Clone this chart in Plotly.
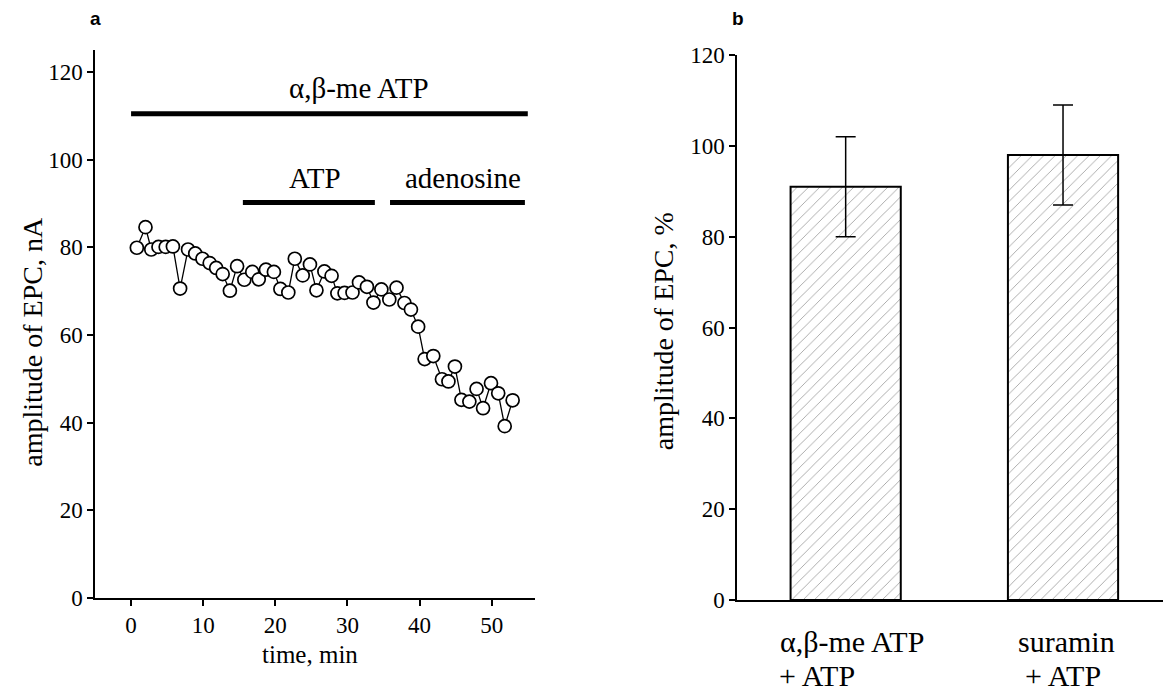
import plotly.graph_objects as go

# ---------------- Panel a data ----------------
time_min = [0.8, 2.0, 2.8, 3.8, 4.8, 5.8, 6.8, 7.9, 8.9, 9.9, 10.9, 11.8, 12.7, 13.7, 14.7,
            15.7, 16.8, 17.7, 18.7, 19.8, 20.7, 21.8, 22.7, 23.8, 24.8, 25.7, 26.8, 27.8,
            28.6, 29.6, 30.7, 31.6, 32.7, 33.6, 34.7, 35.8, 36.8, 37.9, 38.8, 39.8, 40.7,
            41.9, 43.1, 44.0, 44.9, 45.8, 46.9, 47.9, 48.8, 49.9, 50.9, 51.8, 52.9]
epc_nA = [79.9, 84.6, 79.5, 80.1, 80.1, 80.2, 70.6, 79.5, 78.6, 77.4, 76.4, 75.3, 73.9, 70.1, 75.7,
          72.6, 74.4, 72.7, 74.9, 74.4, 70.5, 69.7, 77.4, 73.6, 76.1, 70.2, 74.5, 73.5,
          69.5, 69.6, 69.7, 72.0, 71.0, 67.4, 70.4, 68.1, 70.8, 67.3, 65.8, 61.9, 54.5,
          55.2, 49.9, 49.4, 52.8, 45.2, 44.8, 47.7, 43.3, 49.0, 46.7, 39.2, 45.1]

treat_names = ["α,β-me ATP", "ATP", "adenosine"]
treat_start = [0.0, 15.5, 35.9]
treat_end = [55.0, 33.8, 54.6]
treat_level = [110.5, 90.2, 90.2]
treat_label_x = [31.6, 25.5, 46.0]
treat_label_y = [112.3, 91.6, 91.6]

xa_ticks = [0, 10, 20, 30, 40, 50]
ya_ticks = [0, 20, 40, 60, 80, 100, 120]

# ---------------- Panel b data ----------------
groups_line1 = ["α,β-me ATP", "suramin"]
groups_line2 = ["+ ATP", "+ ATP"]
group_pos = [0, 1]
pct_mean = [91.0, 98.0]
pct_err = [11.0, 11.0]
yb_ticks = [0, 20, 40, 60, 80, 100, 120]

W, H = 1163, 697
def px_x(p):
    return p / W
def px_y(p):
    return (H - p) / H

SERIF = "Liberation Serif, Times New Roman, serif"
fig = go.Figure()

# treatment bars panel a
for s, e, lv in zip(treat_start, treat_end, treat_level):
    fig.add_trace(go.Scatter(x=[s, e], y=[lv, lv], mode="lines",
                             line=dict(color="black", width=5),
                             xaxis="x", yaxis="y", showlegend=False, hoverinfo="skip"))

fig.add_trace(go.Scatter(x=time_min, y=epc_nA, mode="lines+markers",
                         line=dict(color="black", width=1.3),
                         marker=dict(symbol="circle", size=13, color="white",
                                     line=dict(color="black", width=1.7)),
                         xaxis="x", yaxis="y", showlegend=False))

# panel b bars
fig.add_trace(go.Bar(x=group_pos, y=pct_mean, width=0.507,
                     marker=dict(color="white", line=dict(color="black", width=2),
                                 pattern=dict(shape="/", fgcolor="#333", bgcolor="white",
                                              size=8, solidity=0.1)),
                     error_y=dict(type="data", array=pct_err, visible=True,
                                  color="black", thickness=1.5, width=10),
                     xaxis="x2", yaxis="y2", showlegend=False))

axis_common = dict(showline=True, linecolor="black", linewidth=1.5,
                   ticklen=6, tickwidth=1.5, tickcolor="black", showgrid=False, zeroline=False,
                   tickfont=dict(family=SERIF, size=23, color="black"))

fig.update_layout(
    width=W, height=H, margin=dict(l=0, r=0, t=0, b=0),
    paper_bgcolor="white", plot_bgcolor="white",
    xaxis=dict(domain=[px_x(95), px_x(535)], range=[-5, 56], tickvals=xa_ticks,
               ticks="outside", anchor="y", **axis_common),
    yaxis=dict(domain=[px_y(607.8), px_y(39.5)], range=[0, 125], tickvals=ya_ticks,
               ticks="outside", anchor="x", **axis_common),
    xaxis2=dict(domain=[px_x(737), 1.0], range=[-0.5, 1.46], tickvals=group_pos,
                showticklabels=False, ticks="", anchor="y2", **axis_common),
    yaxis2=dict(domain=[px_y(610), px_y(44.6)], range=[0, 120], tickvals=yb_ticks,
                ticks="outside", anchor="x2", **axis_common),
)

def paper_text(x, y, text, font, xanchor="center", angle=0):
    return dict(x=px_x(x), y=px_y(y), xref="paper", yref="paper", text=text,
                showarrow=False, xanchor=xanchor, yanchor="middle", textangle=angle,
                font=font)

ann = []
for name, lx, ly in zip(treat_names, treat_label_x, treat_label_y):
    ann.append(dict(x=lx, y=ly, xref="x", yref="y", text=name, showarrow=False,
                    xanchor="center", yanchor="bottom",
                    font=dict(family=SERIF, size=29, color="black")))
# category labels panel b
cat_font = dict(family=SERIF, size=30, color="black")
ann.append(paper_text(852, 653, groups_line1[0], cat_font))
ann.append(paper_text(777, 688, groups_line2[0], cat_font, xanchor="left"))
ann.append(paper_text(1066, 653, groups_line1[1], cat_font))
ann.append(paper_text(1063, 688, groups_line2[1], cat_font))
# axis titles
ann.append(paper_text(310, 666, "time, min", dict(family=SERIF, size=25, color="black")))
ann.append(paper_text(33, 342, "amplitude of EPC, nA", dict(family=SERIF, size=28, color="black"),
                      angle=-90))
ann.append(paper_text(663, 331, "amplitude of EPC, %", dict(family=SERIF, size=28, color="black"),
                      angle=-90))
# panel letters
letter_font = dict(family="Liberation Sans, Arial, sans-serif", size=19, color="black")
ann.append(paper_text(95, 7, "<b>a</b>", letter_font))
ann.append(paper_text(738, 7, "<b>b</b>", letter_font))
fig.update_layout(annotations=ann)

fig.write_html("out.html", config={"displayModeBar": False},
               post_script="document.body.style.margin='0';document.body.style.overflow='hidden';")
